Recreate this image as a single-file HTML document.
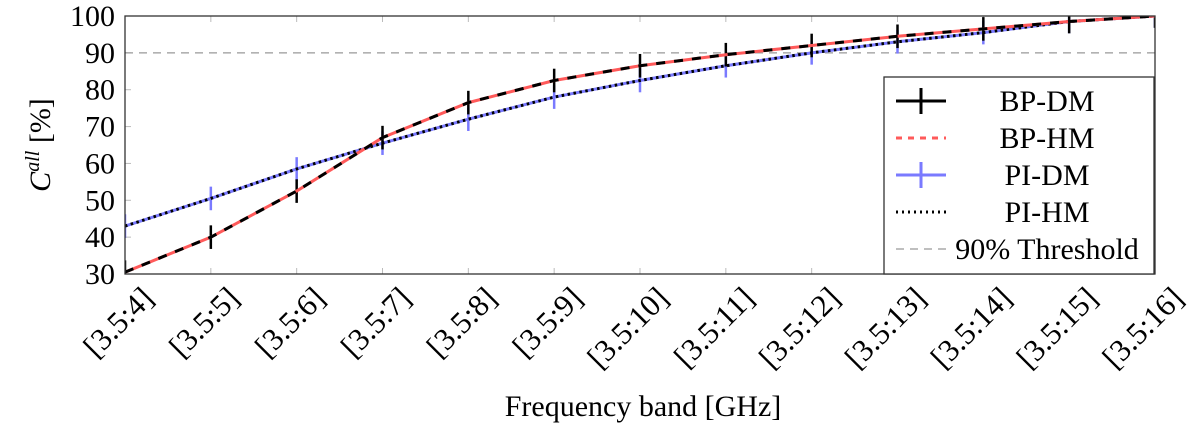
<!DOCTYPE html>
<html><head><meta charset="utf-8"><style>
body{margin:0;background:#fff;}
svg text{font-family:"Liberation Serif",serif;fill:#000;}
</style></head><body>
<svg id="chart" width="1200" height="424" xmlns="http://www.w3.org/2000/svg"></svg>
<script>
const categories=["[3.5:4]","[3.5:5]","[3.5:6]","[3.5:7]","[3.5:8]","[3.5:9]","[3.5:10]","[3.5:11]","[3.5:12]","[3.5:13]","[3.5:14]","[3.5:15]","[3.5:16]"];
const bpDM=[30.5,40,52.5,67,76.5,82.5,86.5,89.5,92,94.5,96.5,98.5,100];
const bpHM=[30.5,40,52.5,67,76.5,82.5,86.5,89.5,92,94.5,96.5,98.5,100];
const piDM=[43,50.5,58.5,65.5,72,78,82.5,86.5,90,93,95.5,98.5,100];
const piHM=[43,50.5,58.5,65.5,72,78,82.5,86.5,90,93,95.5,98.5,100];
const errBar=3.2;
const yTicks=[30,40,50,60,70,80,90,100];
const threshold=90;
const L=125,R=1155,T=16,B=274;
const NS="http://www.w3.org/2000/svg";
const svg=document.getElementById('chart');
const x=i=>L+(R-L)*i/(categories.length-1);
const y=v=>B-(v-30)/(100-30)*(B-T);
function mk(tag,attrs,parent){const e=document.createElementNS(NS,tag);for(const k in attrs)e.setAttribute(k,attrs[k]);(parent||svg).appendChild(e);return e;}
const defs=mk('defs',{});const cp=mk('clipPath',{id:'pc'},defs);mk('rect',{x:L,y:T,width:R-L,height:B-T},cp);
categories.forEach((c,i)=>{
  const g=mk('g',{});
  
  
  mk('line',{x1:x(i),x2:x(i),y1:T,y2:T+6,stroke:'#bbb','stroke-width':1},g);
  mk('line',{x1:x(i),x2:x(i),y1:B,y2:B-6,stroke:'#bbb','stroke-width':1},g);
  const ax=x(i)+30, ay=B+26;
  const t=mk('text',{x:ax,y:ay,'font-size':31,'text-anchor':'end',transform:`rotate(-45 ${ax} ${ay})`},g);
  t.textContent=c;
});
yTicks.forEach(v=>{
  const g=mk('g',{});
  
  
  mk('line',{x1:L,x2:L+6,y1:y(v),y2:y(v),stroke:'#bbb'},g);
  mk('line',{x1:R,x2:R-6,y1:y(v),y2:y(v),stroke:'#bbb'},g);
  const t=mk('text',{x:L-10,y:y(v)+10,'font-size':30,'text-anchor':'end'},g);
  t.textContent=v;
});
const th=mk('line',{x1:L,x2:R,y1:y(threshold),y2:y(threshold),stroke:'#999','stroke-width':1.3,'stroke-dasharray':'8,6'});


const pg=mk('g',{'clip-path':'url(#pc)'});
function series(d,name,stroke,w,dash,err){
  const g=mk('g',{},pg);
  
  
  if(w>0)mk('polyline',{points:d.map((v,i)=>x(i)+','+y(v)).join(' '),fill:'none',stroke:stroke,'stroke-width':w,'stroke-dasharray':dash||'none'},g);
  if(err)d.forEach((v,i)=>{mk('line',{x1:x(i),x2:x(i),y1:y(v-errBar),y2:y(v+errBar),stroke:stroke,'stroke-width':2.5},g);});
}
series(piDM,'series-pi-dm','#7a7aff',3,null,true);
series(piHM,'series-pi-hm','#000',3,'2.5,3.5',false);
series(bpDM,'series-bp-dm-bars','#000',0,null,true);
series(bpHM,'series-bp-hm','#ff5a5a',3,null,false);
series(bpDM,'series-bp-dm','#000',3,'9,9',false);
const fr=mk('rect',{x:L,y:T,width:R-L,height:B-T,fill:'none',stroke:'#333','stroke-width':1.3});


const lg=mk('g',{});


mk('rect',{x:884,y:77,width:270,height:197,fill:'#fff',stroke:'#333','stroke-width':1.3},lg);
const items=[["BP-DM",'#000',null,true],["BP-HM",'#ff5a5a','6,6',false],["PI-DM",'#7a7aff',null,true],["PI-HM",'#000','2,4',false],["90% Threshold",'#999','8,6',false]];
items.forEach((it,i)=>{
  const cy=101+i*37;
  const g=mk('g',{},lg);
  
  
  mk('line',{x1:896,x2:946,y1:cy,y2:cy,stroke:it[1],'stroke-width':i==4?1.3:3,'stroke-dasharray':it[2]||'none'},g);
  if(it[3])mk('line',{x1:921,x2:921,y1:cy-13,y2:cy+13,stroke:it[1],'stroke-width':3},g);
  const t=mk('text',{x:1047,y:cy+10,'font-size':30,'text-anchor':'middle'},g);
  t.textContent=it[0];
});
const xt=mk('text',{x:643,y:416,'font-size':30,'text-anchor':'middle'});
xt.textContent='Frequency band [GHz]';


const yt=mk('text',{x:0,y:0,'font-size':30,'text-anchor':'middle',transform:'translate(50 145) rotate(-90)'});
yt.innerHTML='<tspan font-style="italic">C</tspan><tspan font-style="italic" font-size="20" dy="-11">all</tspan><tspan dy="11"> [%]</tspan>';


</script>
</body></html>
